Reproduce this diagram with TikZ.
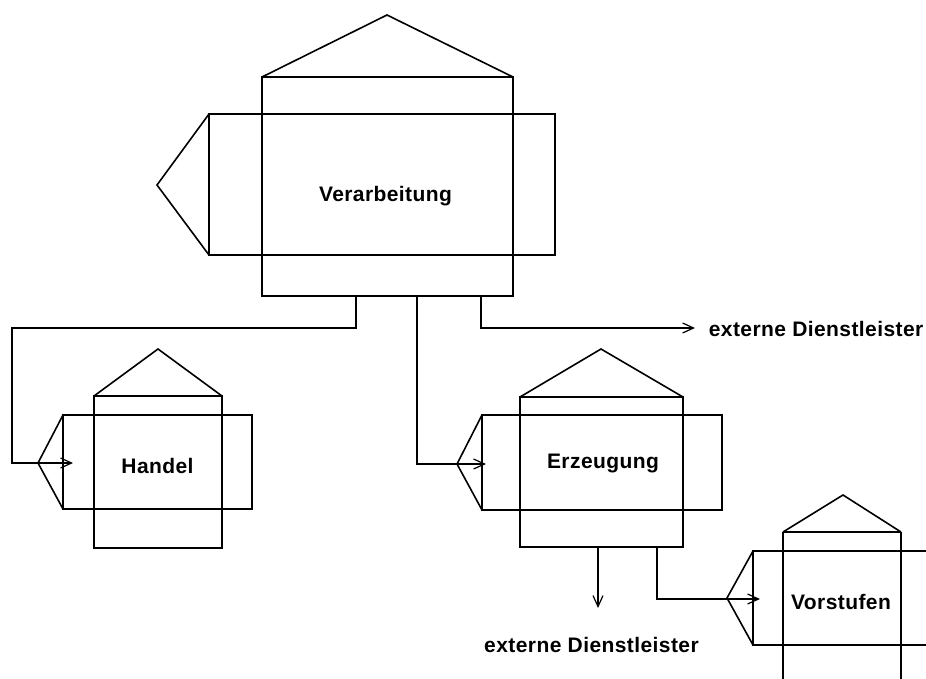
\documentclass[tikz,border=0pt]{standalone}
\usepackage{fontspec}
\setmainfont[LetterSpace=2]{Liberation Sans}
\usetikzlibrary{arrows.meta}
\begin{document}
\begin{tikzpicture}[x=1pt,y=-1pt, line width=1.6pt, line join=miter,
  lbl/.style={font=\bfseries\fontsize{21}{25}\selectfont, inner sep=0pt, anchor=base},
  arr/.style={-{Straight Barb[length=11pt,width=10pt,line width=1.2pt]}, line width=1.6pt}]
\useasboundingbox (0,0) rectangle (926,679);
\clip (0,0) rectangle (926,679);
% Verarbeitung
\draw (262,77) rectangle (513,296);
\draw (209,114) rectangle (555,255);
\draw (262,77) -- (387,15) -- (513,77);
\draw (209,114) -- (157,185) -- (209,255);
\node[lbl] (verarb) at (385.5,202) {Verarbeitung};
% Handel
\draw (94,396) rectangle (222,548);
\draw (63,415) rectangle (252,509);
\draw (94,396) -- (158,349) -- (222,396);
\draw (63,415) -- (38,463) -- (63,509);
\node[lbl] (handel) at (157.5,473) {Handel};
% Erzeugung
\draw (520,397) rectangle (683,547);
\draw (482,415) rectangle (722,510);
\draw (520,397) -- (601,349) -- (683,397);
\draw (482,415) -- (457,464) -- (482,510);
\node[lbl] (erz) at (603,468) {Erzeugung};
% Vorstufen
\draw (783,532) -- (783,690);
\draw (901,532) -- (901,690);
\draw (783,532) -- (901,532);
\draw (940,551) -- (753,551) -- (753,645) -- (940,645);
\draw (783,532) -- (843,495) -- (901,532);
\draw (753,551) -- (727,598) -- (753,645);
\node[lbl] (vor) at (841,609) {Vorstufen};
% external service labels
\node[lbl, anchor=base west] (ext1) at (708,336) {externe Dienstleister};
\node[lbl] (ext2) at (591.5,652) {externe Dienstleister};
% connector points
\coordinate (v1) at (356,296);
\coordinate (v2) at (417,296);
\coordinate (v3) at (481,296);
\coordinate (h-in) at (73,463);
\coordinate (e-in) at (486,464);
\coordinate (x1-in) at (695,328);
\coordinate (e1) at (598,547);
\coordinate (e2) at (657,547);
\coordinate (x2-in) at (598,608);
\coordinate (vo-in) at (760,599);
% connectors
\draw[arr] (v1) -- (356,328) -- (12,328) -- (12,463) -- (h-in);
\draw[arr] (v2) -- (417,464) -- (e-in);
\draw[arr] (v3) -- (481,328) -- (x1-in);
\draw[arr] (e1) -- (x2-in);
\draw[arr] (e2) -- (657,599) -- (vo-in);
\end{tikzpicture}
\end{document}
